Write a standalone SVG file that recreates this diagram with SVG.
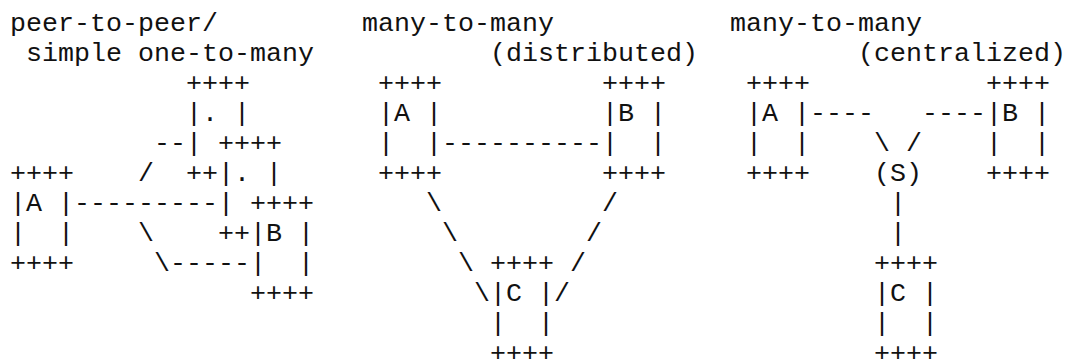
<svg xmlns="http://www.w3.org/2000/svg" width="1066" height="363" viewBox="0 0 1066 363">
  <style>
    /* character-cell drawing: 16px columns, 30px rows */
    text { font-family: "Liberation Mono", "DejaVu Sans Mono", monospace; font-size: 26.67px; fill: #111; white-space: pre; }
  </style>
  <rect width="1066" height="363" fill="#ffffff"/>

  <!-- headings -->
  <g id="titles">
    <text x="10" y="31">peer-to-peer/</text>
    <text x="26" y="61">simple one-to-many</text>
    <text x="362" y="31">many-to-many</text>
    <text x="490" y="61">(distributed)</text>
    <text x="730" y="31">many-to-many</text>
    <text x="858" y="61">(centralized)</text>
  </g>

  <!-- peer-to-peer / simple one-to-many -->
  <g id="p2p-a">
    <text x="10" y="181">++++</text>
    <text x="10" y="211">|A |</text>
    <text x="10" y="241">|  |</text>
    <text x="10" y="271">++++</text>
  </g>
  <g id="p2p-stack-back">
    <text x="186" y="91">++++</text>
    <text x="186" y="121">|. |</text>
    <text x="186" y="151">|</text>
    <text x="186" y="181">++</text>
  </g>
  <g id="p2p-stack-mid">
    <text x="218" y="151">++++</text>
    <text x="218" y="181">|. |</text>
    <text x="218" y="211">|</text>
    <text x="218" y="241">++</text>
  </g>
  <g id="p2p-b">
    <text x="250" y="211">++++</text>
    <text x="250" y="241">|B |</text>
    <text x="250" y="271">|  |</text>
    <text x="250" y="301">++++</text>
  </g>

  <!-- many-to-many (distributed) -->
  <g id="dist-a">
    <text x="378" y="91">++++</text>
    <text x="378" y="121">|A |</text>
    <text x="378" y="151">|  |</text>
    <text x="378" y="181">++++</text>
  </g>
  <g id="dist-b">
    <text x="602" y="91">++++</text>
    <text x="602" y="121">|B |</text>
    <text x="602" y="151">|  |</text>
    <text x="602" y="181">++++</text>
  </g>
  <g id="dist-c">
    <text x="490" y="271">++++</text>
    <text x="490" y="301">|C |</text>
    <text x="490" y="331">|  |</text>
    <text x="490" y="361">++++</text>
  </g>

  <!-- many-to-many (centralized) -->
  <g id="cent-a">
    <text x="746" y="91">++++</text>
    <text x="746" y="121">|A |</text>
    <text x="746" y="151">|  |</text>
    <text x="746" y="181">++++</text>
  </g>
  <g id="cent-b">
    <text x="986" y="91">++++</text>
    <text x="986" y="121">|B |</text>
    <text x="986" y="151">|  |</text>
    <text x="986" y="181">++++</text>
  </g>
  <g id="cent-s">
    <text x="874" y="181">(S)</text>
  </g>
  <g id="cent-c">
    <text x="874" y="271">++++</text>
    <text x="874" y="301">|C |</text>
    <text x="874" y="331">|  |</text>
    <text x="874" y="361">++++</text>
  </g>

  <!-- links drawn with dash, slash and bar characters -->
  <g id="connectors">
    <text x="154" y="151">--</text>
    <text x="138" y="181">/</text>
    <text x="74" y="211">---------</text>
    <text x="138" y="241">\</text>
    <text x="154" y="271">\-----</text>

    <text x="442" y="151">----------</text>
    <text x="426" y="211">\</text>
    <text x="602" y="211">/</text>
    <text x="442" y="241">\</text>
    <text x="586" y="241">/</text>
    <text x="458" y="271">\</text>
    <text x="570" y="271">/</text>
    <text x="474" y="301">\</text>
    <text x="554" y="301">/</text>

    <text x="810" y="121">----</text>
    <text x="922" y="121">----</text>
    <text x="874" y="151">\</text>
    <text x="906" y="151">/</text>
    <text x="890" y="211">|</text>
    <text x="890" y="241">|</text>
  </g>
</svg>
